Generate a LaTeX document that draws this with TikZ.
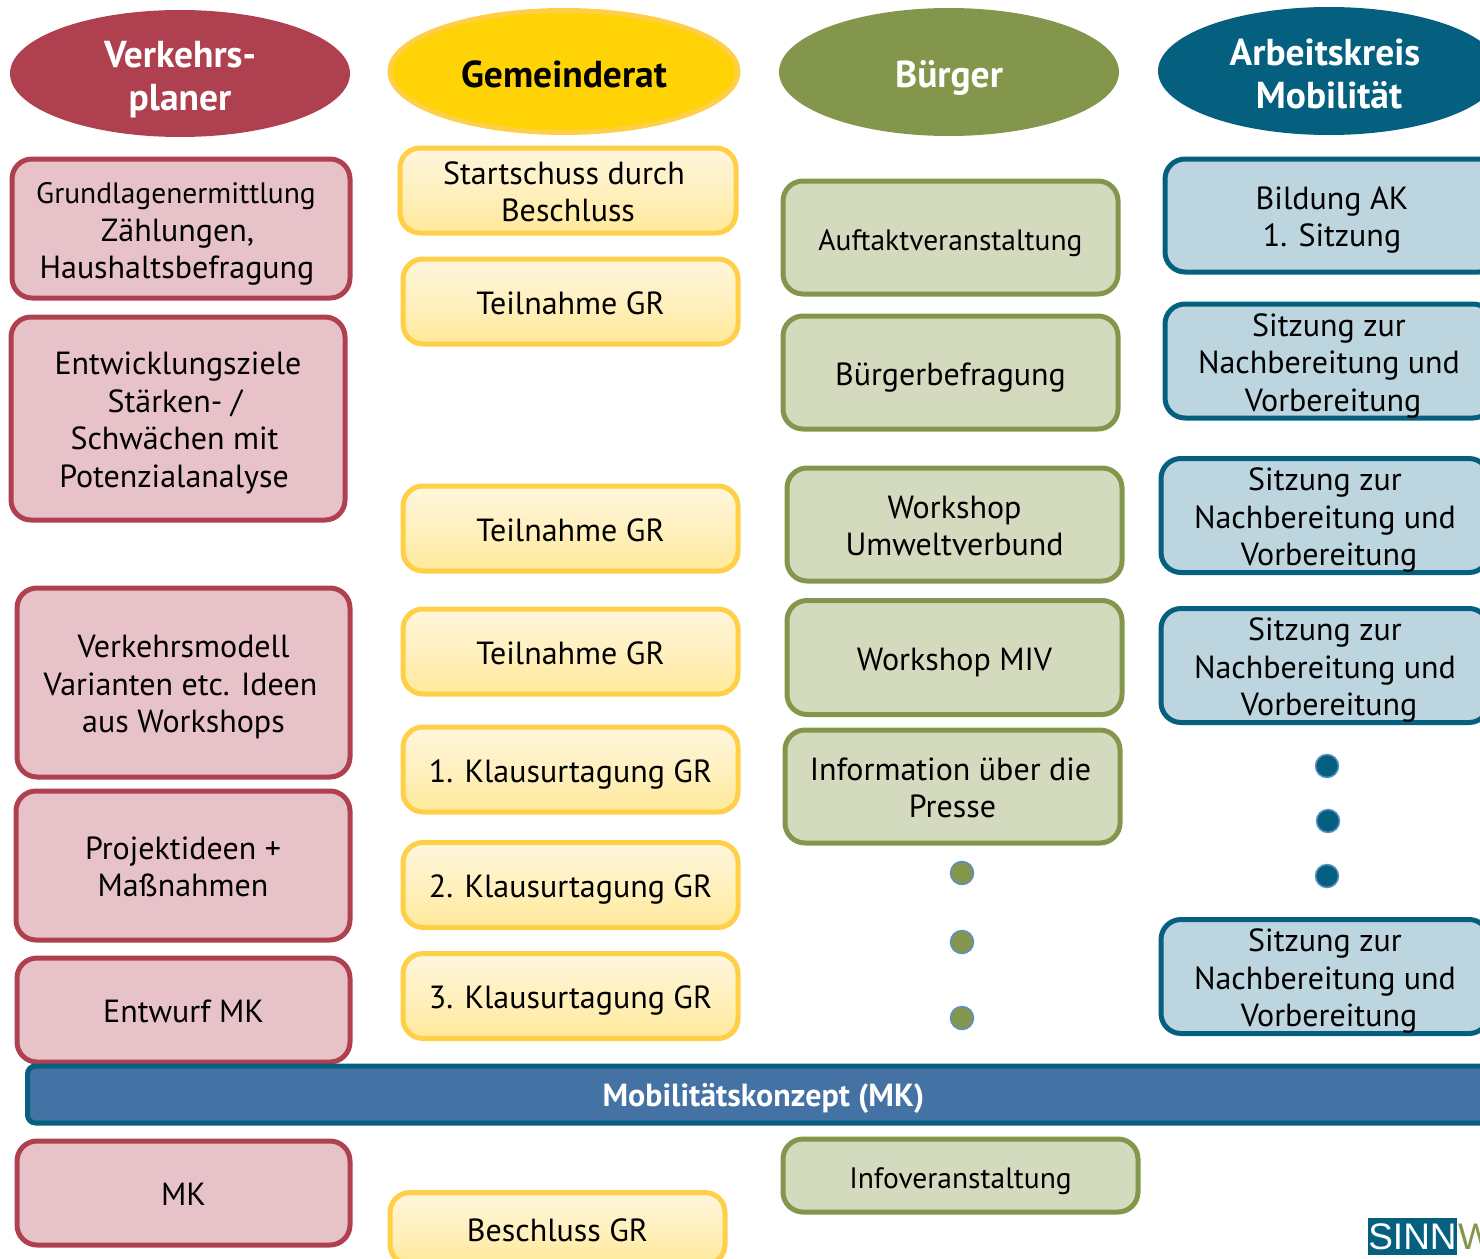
\documentclass[tikz,border=0pt]{standalone}
\usepackage{fontspec}
\setmainfont{PT Sans}
\newfontfamily\logofont{Liberation Sans}
\usetikzlibrary{shapes.geometric}
\newcommand{\kleinzeile}{\fontsize{29.5}{37.5}\selectfont}
\newcommand{\einzug}[1]{\rule{#1}{0pt}}
\newcommand{\kopfrand}{\rule{0pt}{41pt}}
\newcommand{\zeilenrand}{\rule{0pt}{32pt}}
\tikzset{
  kopf/.style={ellipse,inner xsep=0pt,inner ysep=-8pt,minimum width=338,minimum height=125,align=center,
    font=\fontsize{37.5}{43}\selectfont\bfseries,text=white,
    execute at begin node={\kopfrand},execute at end node={\rule[-10pt]{0pt}{10pt}}},
  kasten/.style={rounded corners=20,line width=5,inner sep=0pt,align=center,
    font=\fontsize{32}{37.5}\selectfont,
    execute at begin node={\zeilenrand},execute at end node={\rule[-7pt]{0pt}{7pt}}},
  planer/.style={kasten,draw=rot,fill=rotlicht},
  rat/.style={kasten,draw=gelbrand,top color=gelboben,bottom color=gelbunten,middle color=gelbmitte},
  buerger/.style={kasten,draw=gruen,fill=gruenlicht},
  ak/.style={kasten,draw=petrol,fill=blaulicht},
  punkt/.style={circle,inner sep=0pt,minimum size=23,line width=1.5},
}
\definecolor{rot}{HTML}{AF404F}
\definecolor{rotlicht}{HTML}{E8C2C9}
\definecolor{gelb}{HTML}{FFD305}
\definecolor{gelbrand}{HTML}{FFCF48}
\definecolor{gelboben}{HTML}{FFF6DC}
\definecolor{gelbmitte}{HTML}{FFF0BF}
\definecolor{gelbunten}{HTML}{FFE999}
\definecolor{gruen}{HTML}{83964B}
\definecolor{gruenlicht}{HTML}{D4DABD}
\definecolor{petrol}{HTML}{05607F}
\definecolor{blaulicht}{HTML}{BDD5DE}
\definecolor{balken}{HTML}{4472A4}
\definecolor{punktrand}{HTML}{5B8FC9}
\begin{document}
\begin{tikzpicture}[x=1pt,y=-1pt]
\useasboundingbox (0,0) rectangle (1480,1258);
\clip (0,0) rectangle (1480,1258);
% Kopfzeile
\node[kopf,fill=rot,minimum width=340,minimum height=127] (verkehrsplaner) at (180,73.5) {\kopfrand Verkehrs-\\planer};
\node[kopf,fill=gelb,draw=gelbrand,line width=5,minimum width=348,minimum height=122,text=black] (gemeinderat) at (564,71.5) {Gemeinderat};
\node[kopf,fill=gruen,minimum width=340,minimum height=128] (buerger) at (949,72) {Bürger};
\node[kopf,fill=petrol,minimum width=342,minimum height=128] (arbeitskreis) at (1329,71) {\kopfrand Arbeitskreis\einzug{8pt}\\Mobilität};
% Verkehrsplaner
\node[planer,minimum width=338,minimum height=139] (grundlagen) at (181,228.5) {\zeilenrand{\kleinzeile Grundlagenermittlung}\einzug{10pt}\\Zählungen,\einzug{7pt}\\Haushaltsbefragung\einzug{8pt}};
\node[planer,minimum width=334,minimum height=203] (ziele) at (178,418.5) {\zeilenrand Entwicklungsziele\\Stärken- /\einzug{6pt}\\Schwächen mit\einzug{7pt}\\Potenzialanalyse\einzug{8pt}};
\node[planer,minimum width=333,minimum height=189] (modell) at (183.5,682.5) {\zeilenrand Verkehrsmodell\\Varianten etc. Ideen\einzug{6pt}\\aus Workshops};
\node[planer,minimum width=334,minimum height=149] (projektideen) at (183,865.5) {\zeilenrand Projektideen +\\Maßnahmen};
\node[planer,minimum width=333,minimum height=104] (entwurf) at (183.5,1010) {Entwurf MK};
\node[planer,minimum width=333,minimum height=104] (mk) at (183.5,1193) {MK};
% Gemeinderat
\node[rat,minimum width=336,minimum height=85] (startschuss) at (568,190.5) {\zeilenrand Startschuss durch\einzug{8pt}\\Beschluss};
\foreach \name/\y/\txt in {teilnahmea/301.5/Teilnahme GR,teilnahmeb/528.5/Teilnahme GR,teilnahmec/651.5/Teilnahme GR,
    klausura/769.5/1. Klausurtagung GR,klausurb/885/2. Klausurtagung GR,klausurc/996/3. Klausurtagung GR}
  \node[rat,minimum width=335,minimum height=85] (\name) at (570.5,\y) {\txt};
\node[rat,minimum width=335,minimum height=72] (beschluss) at (557.5,1228.5) {Beschluss GR};
% Buerger
\node[buerger,minimum width=335,minimum height=113] (auftakt) at (950.5,237.5) {{\kleinzeile Auftaktveranstaltung}};
\node[buerger,minimum width=335,minimum height=113] (befragung) at (950.5,372.5) {Bürgerbefragung};
\node[buerger,minimum width=335,minimum height=113] (umweltverbund) at (954.5,524.5) {\zeilenrand Workshop\\Umweltverbund};
\node[buerger,minimum width=335,minimum height=114] (miv) at (954.5,657.5) {Workshop MIV};
\node[buerger,minimum width=335,minimum height=113] (presse) at (952.5,786.5) {\zeilenrand Information über die\einzug{4pt}\\Presse};
\node[buerger,minimum width=355,minimum height=73] (info) at (960.5,1175.5) {{\kleinzeile Infoveranstaltung}};
\foreach \y in {873,942,1018}
  \node[punkt,fill=gruen,draw=punktrand] at (962,\y) {};
% Arbeitskreis
\node[ak,minimum width=334,minimum height=113] (bildung) at (1332,215.5) {\zeilenrand Bildung AK\\1. Sitzung};
\foreach \name/\xpos/\y in {sitzunga/1329/361,sitzungb/1325/515.5,sitzungc/1325/665.5,sitzungd/1325/976.5}
  \node[ak,minimum width=328,minimum height=113] (\name) at (\xpos,\y) {\zeilenrand Sitzung zur\\Nachbereitung und\\\einzug{8pt}Vorbereitung};
\foreach \xpos/\y in {1327/766,1328/821,1327/876}
  \node[punkt,fill=petrol,draw=punktrand] at (\xpos,\y) {};
% Balken
\node[draw=petrol,fill=balken,line width=5,rounded corners=8,inner sep=0pt,minimum width=1480,minimum height=57,
  text=white,font=\fontsize{32}{37}\selectfont\bfseries,
  execute at begin node={\zeilenrand},execute at end node={\rule[-7pt]{0pt}{7pt}}] (konzept) at (767.5,1094.5) {Mobilitätskonzept (MK)\einzug{8pt}};
% Logo
\node[fill=petrol,text=white,inner sep=0pt,minimum width=89,minimum height=37,font=\logofont\fontsize{37}{37}\selectfont] (sinn) at (1412.5,1236.5) {SINN};
\node[anchor=west,inner sep=0pt,text=gruen,font=\logofont\fontsize{37}{37}\selectfont] (werk) at (1458,1236.5) {W};
\end{tikzpicture}
\end{document}
